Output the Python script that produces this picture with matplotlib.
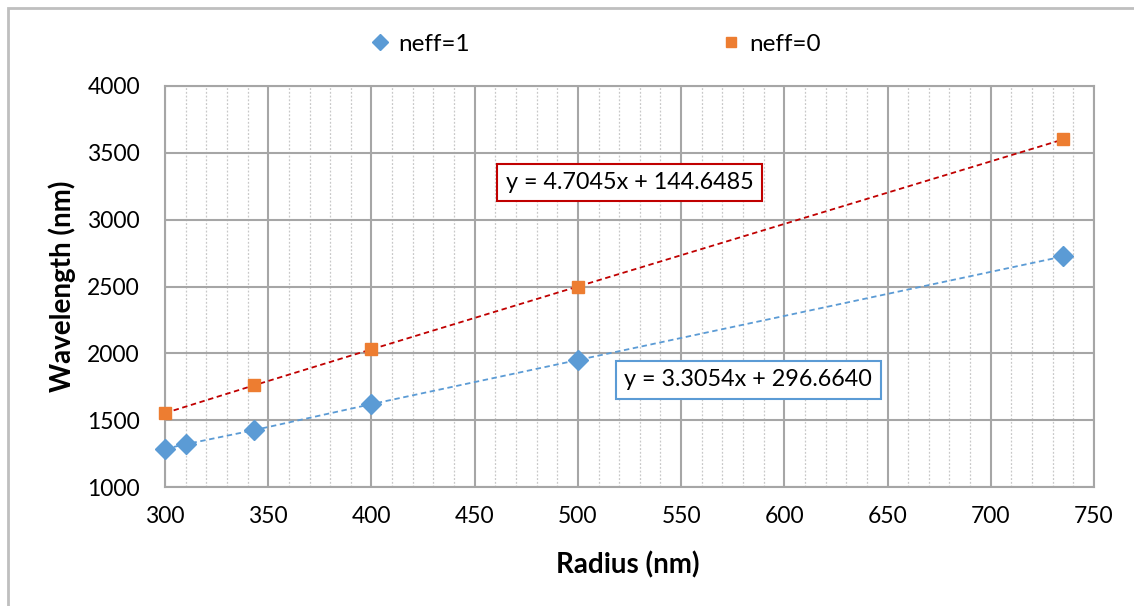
import matplotlib
matplotlib.use("Agg")
import matplotlib.pyplot as plt
from matplotlib.patches import Rectangle
from matplotlib.ticker import MultipleLocator

# data
radius_n1 = [300, 310, 343, 400, 500, 735]
wl_n1 = [1285, 1320, 1425, 1620, 1950, 2725]
radius_n0 = [300, 343, 400, 500, 735]
wl_n0 = [1553, 1760, 2030, 2500, 3600]
eq_n1 = "y = 3.3054x + 296.6640"
eq_n0 = "y = 4.7045x + 144.6485"

blue = "#5B9BD5"
orange = "#ED7D31"
red = "#C00000"
grid_c = "#A6A6A6"

plt.rcParams["font.family"] = ["Lato", "DejaVu Sans"]

fig = plt.figure(figsize=(11.34, 6.06), dpi=100)
ax = fig.add_axes([165/1134, 1-487/606, 929/1134, 401/606])

# trend lines (dashed, through the points)
ax.plot(radius_n1, wl_n1, color=blue, ls=(0, (3, 2)), lw=1.3, zorder=3)
ax.plot(radius_n0, wl_n0, color=red, ls=(0, (3, 2)), lw=1.3, zorder=3)

# markers
ax.plot(radius_n1, wl_n1, ls="none", marker="D", ms=10, color=blue,
        mec=blue, label="neff=1", zorder=4, clip_on=False)
ax.plot(radius_n0, wl_n0, ls="none", marker="s", ms=8.5, color=orange,
        mec=orange, label="neff=0", zorder=4, clip_on=False)

ax.set_xlim(300, 750)
ax.set_ylim(1000, 4000)
ax.xaxis.set_major_locator(MultipleLocator(50))
ax.xaxis.set_minor_locator(MultipleLocator(10))
ax.yaxis.set_major_locator(MultipleLocator(500))

ax.grid(which="major", color=grid_c, lw=1.5)
ax.grid(which="minor", axis="x", color="#C8C8C8", lw=0.9, ls=(0, (1.5, 1.5)))
ax.set_axisbelow(True)
for s in ax.spines.values():
    s.set_color(grid_c)
    s.set_linewidth(1.5)

ax.tick_params(which="both", length=0, labelsize=16.5)
ax.tick_params(axis="x", pad=14)
ax.tick_params(axis="y", pad=18)

fig.text(628/1134, 1-565/606, "Radius (nm)", ha="center", va="center",
         fontsize=20, fontweight="bold")
fig.text(62/1134, 1-286/606, "Wavelength (nm)", ha="center", va="center",
         rotation=90, fontsize=20, fontweight="bold")

# equation labels
ax.text(0.5, 0.76, eq_n0, transform=ax.transAxes, ha="center", va="center",
        fontsize=16.8, bbox=dict(boxstyle="square,pad=0.35", fc="white",
                                 ec=red, lw=1.5), zorder=5)
ax.text(0.628, 0.267, eq_n1, transform=ax.transAxes, ha="center",
        va="center", fontsize=16.8, bbox=dict(boxstyle="square,pad=0.35",
                                              fc="white", ec=blue, lw=1.5),
        zorder=5)

fig.legend(loc="center", bbox_to_anchor=(596/1134, 1-44/606), ncol=2,
           frameon=False, fontsize=17.5, handlelength=0.7, handletextpad=0.4,
           columnspacing=10.4, markerscale=0.8)

# chart border (only top and left visible)
fig.add_artist(Rectangle((8/1134, -0.1), 1.2, 1.1 - 8/606,
                         transform=fig.transFigure, fill=False,
                         ec="#BFBFBF", lw=2, clip_on=False))

fig.savefig("out.png", dpi=100)
